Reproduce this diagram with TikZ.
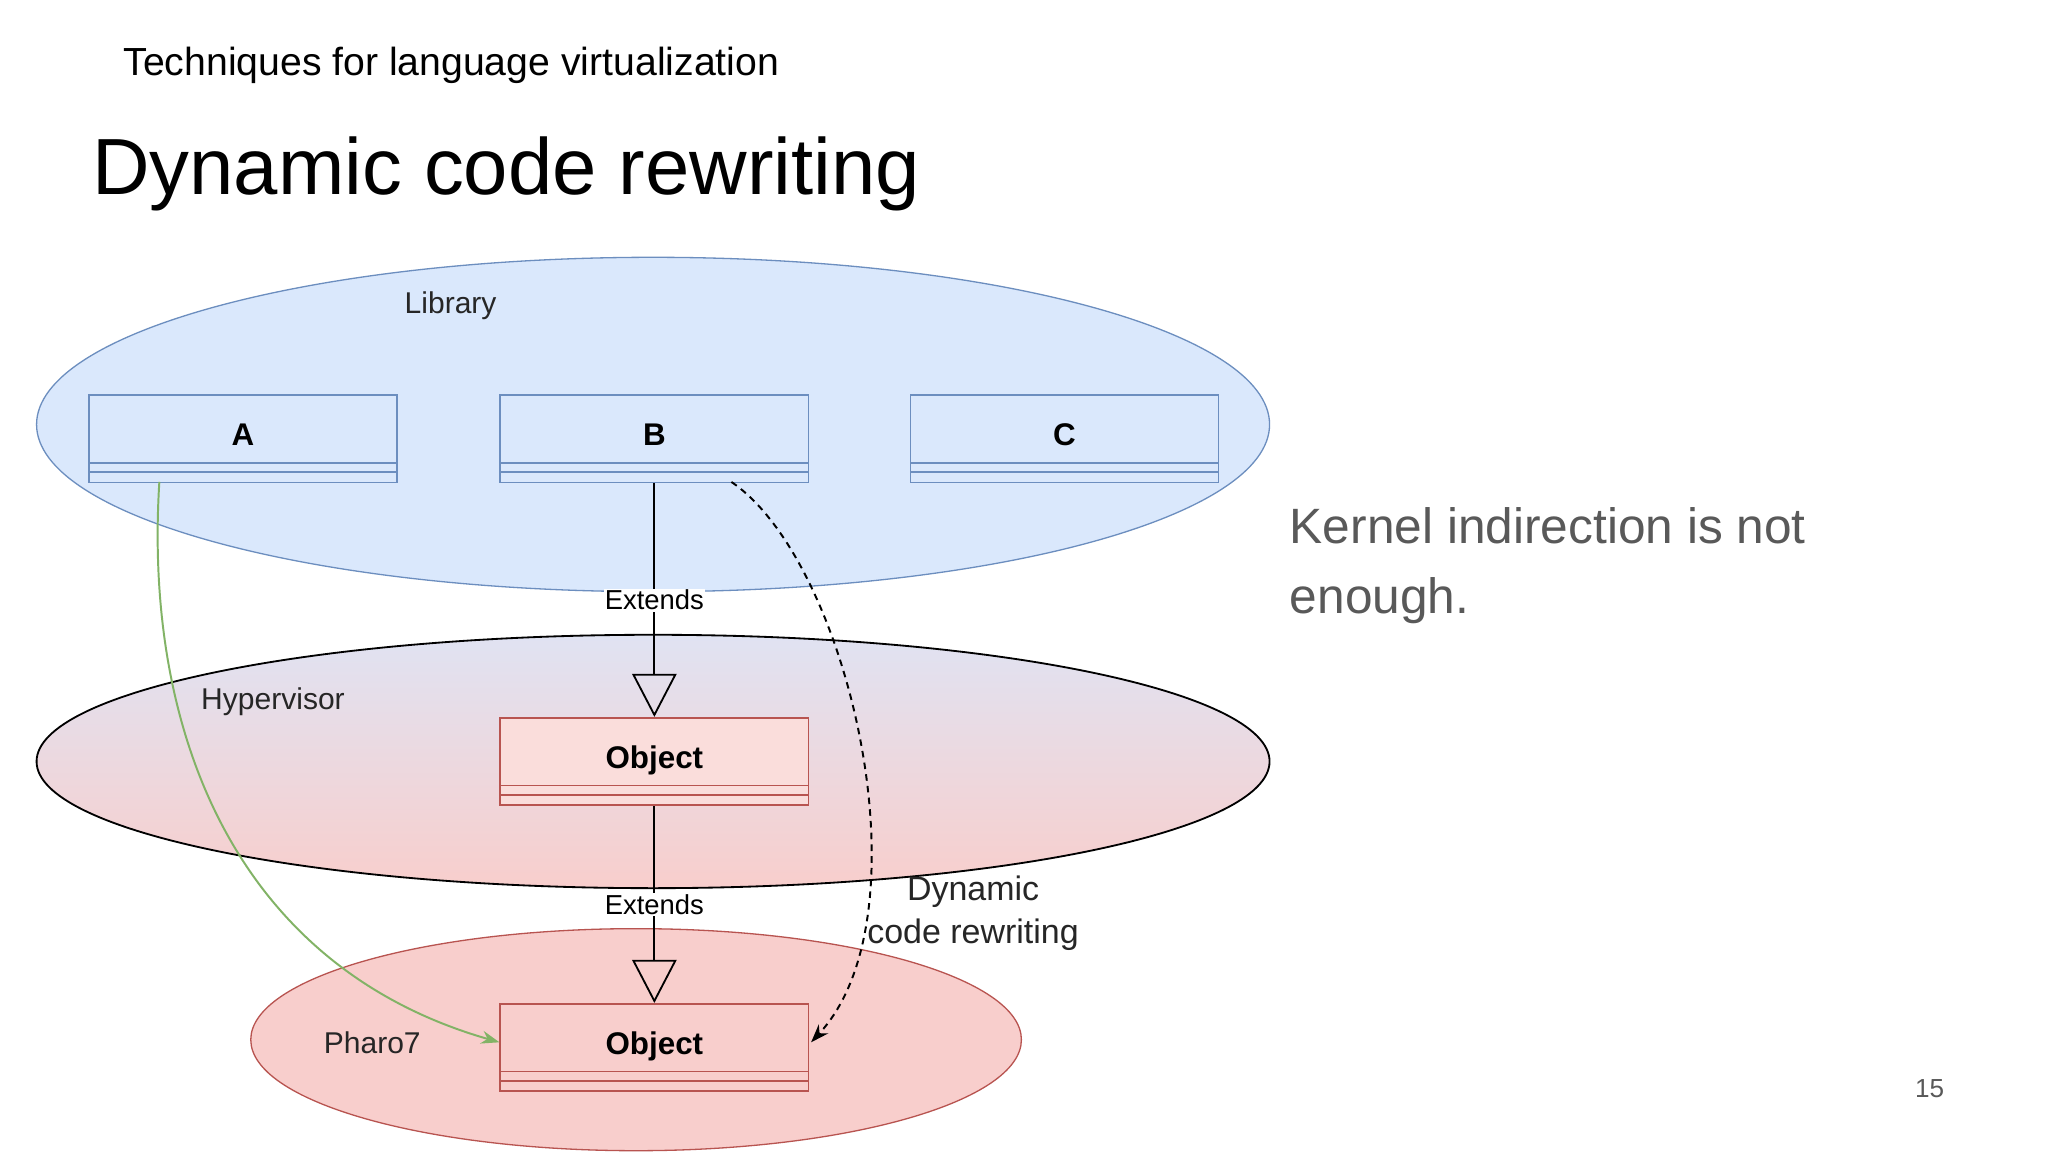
\documentclass[tikz,border=0pt]{standalone}
\usepackage{fontspec}
\setmainfont{Liberation Sans}
\usetikzlibrary{arrows.meta,shapes.geometric}
\definecolor{lblue}{HTML}{DAE8FC}
\definecolor{dblue}{HTML}{6C8EBF}
\definecolor{lred}{HTML}{F8CECC}
\definecolor{dred}{HTML}{B85450}
\definecolor{dgreen}{HTML}{82B366}
\definecolor{tgray}{HTML}{595959}
\begin{document}
\begin{tikzpicture}[x=1pt,y=-1pt,
  cls/.style={draw=#1,line width=1.2pt,minimum width=236pt,minimum height=67pt,inner sep=0pt,
    font=\fontsize{24}{28}\selectfont\bfseries,
    path picture={\draw[#1,line width=1.2pt] ([yshift=15pt]path picture bounding box.south west) -- ([yshift=15pt]path picture bounding box.south east)
      ([yshift=8pt]path picture bounding box.south west) -- ([yshift=8pt]path picture bounding box.south east);}},
  lbl/.style={font=\fontsize{23}{27}\selectfont,text=black!85},
  ext/.style={draw=black,line width=1.4pt,-{Triangle[open,length=33pt,width=34pt]}},
  extlbl/.style={fill=white,inner sep=1pt,font=\fontsize{21}{25}\selectfont}]
\useasboundingbox (0,0) rectangle (1568,882);
\fill[white] (0,0) rectangle (1568,882);
\begin{scope}
\clip (0,0) rectangle (1568,882);
\node[ellipse,draw=dblue,fill=lblue,line width=1pt,minimum width=944pt,minimum height=256pt,inner sep=0pt] (lib) at (500,325) {};
\node[ellipse,draw=black,line width=1.4pt,top color=lblue!80!lred,bottom color=lred,minimum width=944pt,minimum height=194pt,inner sep=0pt] (hyp) at (500,583) {};
\node[ellipse,draw=dred,fill=lred,line width=1pt,minimum width=590pt,minimum height=170pt,inner sep=0pt] (pha) at (487,796) {};
\end{scope}
\node[lbl] (liblbl) at (345,234) {Library};
\node[lbl] (hyplbl) at (209,537) {Hypervisor};
\node[lbl] (phalbl) at (285,798) {Pharo7};
\node[cls=dblue,fill=lblue] (A) at (186,336) {\raisebox{7pt}{A}};
\node[cls=dblue,fill=lblue] (B) at (501,336) {\raisebox{7pt}{B}};
\node[cls=dblue,fill=lblue] (C) at (815,336) {\raisebox{7pt}{C}};
\node[cls=dred,fill=lred!70!white] (O1) at (501,583) {\raisebox{7pt}{Object}};
\node[cls=dred,fill=lred] (O2) at (501,802) {\raisebox{7pt}{Object}};
\draw[ext] (B.south) -- node[extlbl] {Extends} (O1.north);
\draw[ext] (O1.south) -- node[extlbl] {Extends} (O2.north);
\coordinate (Astart) at (122,369);
\coordinate (Bstart) at (560,369);
\coordinate (O2r) at (621,798);
\draw[dgreen,line width=1.5pt,-{Stealth[length=14pt,width=10pt]}] (Astart) .. controls (110,560) and (180,740) .. (O2.west|-O2r);
\draw[black,line width=1.5pt,dash pattern=on 5pt off 4pt,-{Stealth[length=14pt,width=10pt]}] (Bstart) .. controls (650,430) and (712,700) .. (O2r);
\node[font=\fontsize{26}{33}\selectfont,align=center,text=black!85] (dcr) at (745,699) {Dynamic\\code rewriting};
\node[anchor=base west,font=\fontsize{30}{35}\selectfont] (sub) at (91,58) {Techniques for language virtualization};
\node[anchor=base west,font=\fontsize{61}{70}\selectfont] (title) at (67,149) {Dynamic code rewriting};
\node[anchor=north west,align=left,text=tgray,font=\fontsize{38}{54}\selectfont] (kern) at (984,385) {Kernel indirection is not\\enough.};
\node[anchor=base east,text=tgray,font=\fontsize{20}{24}\selectfont] (pg) at (1492,840) {15};
\end{tikzpicture}
\end{document}
